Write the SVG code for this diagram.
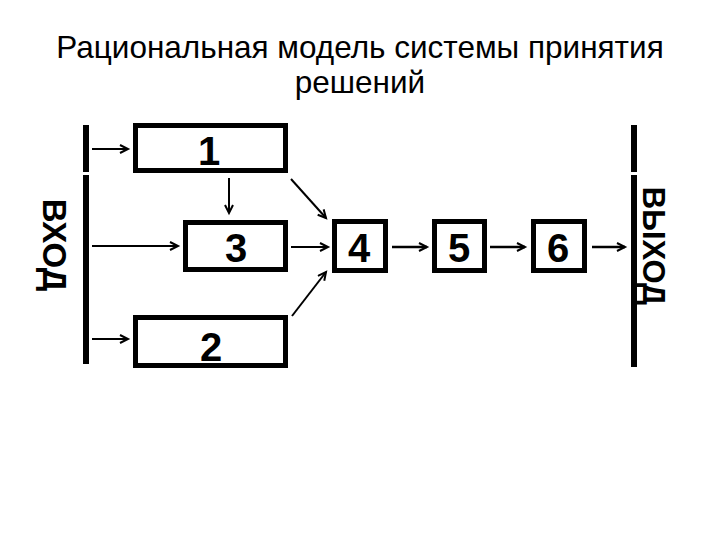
<svg xmlns="http://www.w3.org/2000/svg" width="720" height="540" viewBox="0 0 720 540">
<style>
.title{font-family:"Liberation Sans",Arial,sans-serif;font-size:31.5px;fill:#000}
.box{fill:#fff;stroke:#000;stroke-width:5}
.num{font-family:"Liberation Sans",Arial,sans-serif;font-weight:bold;font-size:40px;fill:#000;text-anchor:middle}
.side{font-family:"Liberation Sans",Arial,sans-serif;font-weight:bold;fill:#000;text-anchor:middle}
.bar{stroke:#000;stroke-width:6}
.conn{stroke:#000;stroke-width:2;fill:none;marker-end:url(#ah)}
.conn2{stroke:#000;stroke-width:2.5;fill:none;marker-end:url(#ah)}
</style>
<defs>
<marker id="ah" markerUnits="userSpaceOnUse" markerWidth="12" markerHeight="12" refX="9" refY="5" orient="auto">
<path d="M1,1 L9,5 L1,9" fill="none" stroke="#000" stroke-width="2"/>
</marker>
</defs>
<rect width="720" height="540" fill="#fff"/>
<g id="title">
<text class="title" x="360" y="57.5" text-anchor="middle">Рациональная модель системы принятия</text>
<text class="title" x="360" y="93" text-anchor="middle">решений</text>
</g>
<g id="input">
<line class="bar" x1="86" y1="125" x2="86" y2="172"/>
<line class="bar" x1="86" y1="175" x2="86" y2="364"/>
<text class="side" font-size="33" transform="translate(43,245) rotate(90)">ВХОД</text>
</g>
<g id="output">
<line class="bar" x1="634" y1="125" x2="634" y2="172"/>
<line class="bar" x1="634" y1="175" x2="634" y2="367"/>
<text class="side" font-size="31" transform="translate(643,246) rotate(90)">ВЫХОД</text>
</g>
<g id="n1"><rect class="box" x="135.5" y="125.5" width="150" height="45"/><text class="num" x="209" y="165">1</text></g>
<g id="n3"><rect class="box" x="185.5" y="222.5" width="100" height="47"/><text class="num" x="236" y="262">3</text></g>
<g id="n2"><rect class="box" x="135.5" y="317.5" width="150" height="48"/><text class="num" x="211" y="361">2</text></g>
<g id="n4"><rect class="box" x="334.5" y="221.5" width="51" height="49"/><text class="num" x="359" y="262">4</text></g>
<g id="n5"><rect class="box" x="434.5" y="221.5" width="50" height="49"/><text class="num" x="459" y="262">5</text></g>
<g id="n6"><rect class="box" x="533.5" y="221.5" width="51" height="49"/><text class="num" x="558" y="262">6</text></g>
<g id="connectors">
<line class="conn" x1="92" y1="149" x2="128" y2="149"/>
<line class="conn" x1="92" y1="246" x2="178" y2="246"/>
<line class="conn" x1="92" y1="339" x2="128" y2="339"/>
<line class="conn" x1="229" y1="178" x2="229" y2="213"/>
<line class="conn" x1="291" y1="179" x2="326" y2="218"/>
<line class="conn" x1="291" y1="247" x2="328" y2="247"/>
<line class="conn" x1="292" y1="316" x2="326" y2="272"/>
<line class="conn2" x1="392" y1="247" x2="427" y2="247"/>
<line class="conn2" x1="490" y1="247" x2="525" y2="247"/>
<line class="conn2" x1="592" y1="247" x2="625" y2="247"/>
</g>
</svg>
